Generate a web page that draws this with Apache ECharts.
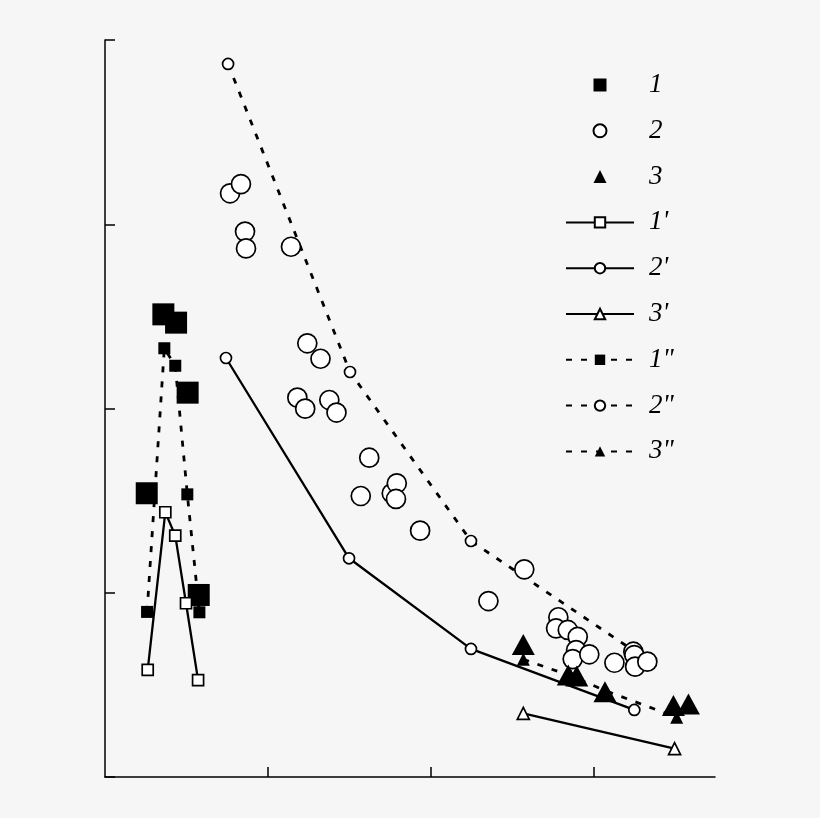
<!DOCTYPE html>
<html>
<head>
<meta charset="utf-8">
<script src="https://cdn.jsdelivr.net/npm/echarts@6/dist/echarts.min.js"></script>
<style>
  html, body { margin: 0; padding: 0; background: #f6f6f6; }
  #chart { width: 820px; height: 818px; }
</style>
</head>
<body>
<div id="chart"></div>
<script>
// values in tick units (no labels are printed on the axes)
var xTicks = [1, 2, 3];
var legendNames = ['1', '2', '3', "1'", "2'", "3'", '1"', '2"', '3"'];

// 1 - big filled squares
var exp1 = [[0.256, 1.540], [0.358, 2.511], [0.436, 2.466], [0.507, 2.086], [0.575, 0.988]];
// 2 - big open circles
var exp2 = [
  [0.767, 3.168], [0.834, 3.218], [0.859, 2.960], [0.865, 2.869], [1.141, 2.878],
  [1.241, 2.354], [1.322, 2.270], [1.180, 2.059], [1.228, 1.999], [1.376, 2.046],
  [1.420, 1.978], [1.621, 1.733], [1.569, 1.525], [1.759, 1.540], [1.790, 1.594],
  [1.785, 1.509], [1.933, 1.337], [2.572, 1.127], [2.352, 0.955], [2.781, 0.867],
  [2.767, 0.807], [2.839, 0.798], [2.900, 0.761], [2.890, 0.689], [2.869, 0.640],
  [2.971, 0.666], [3.125, 0.620], [3.241, 0.680], [3.247, 0.662], [3.252, 0.599],
  [3.327, 0.626]
];
// 3 - big filled triangles
var exp3 = [[2.566, 0.719], [2.842, 0.554], [2.894, 0.548], [3.067, 0.463], [3.487, 0.388], [3.579, 0.396]];

// 1', 2', 3' - solid lines
var calc1a = [[0.262, 0.581], [0.370, 1.437], [0.431, 1.310], [0.497, 0.943], [0.571, 0.526]];
var calc2a = [[0.742, 2.274], [1.497, 1.187], [2.245, 0.695], [3.247, 0.364]];
var calc3a = [[2.566, 0.345], [3.494, 0.154]];

// 1", 2", 3" - dashed lines
var calc1b = [[0.258, 0.896], [0.364, 2.327], [0.431, 2.232], [0.505, 1.534], [0.579, 0.894]];
var calc2b = [[0.755, 3.870], [1.503, 2.198], [2.245, 1.281], [3.245, 0.684]];
var calc3b = [[2.566, 0.639], [2.859, 0.548], [3.074, 0.467], [3.507, 0.324]];

var black = '#000';
var openStyle = { color: '#fff', borderColor: black, borderWidth: 1.7, opacity: 1 };
var fillStyle = { color: black, borderColor: black, borderWidth: 0, opacity: 1 };
var dash = [6, 9];

// square / triangle legend icons as paths so they keep their aspect
var squareIcon = 'path://M0,0H10V10H0Z';
var triangleIcon = 'path://M5,0L10,10H0Z';

function lineSeries(name, data, symbol, size, item, type) {
  return {
    name: name,
    type: 'line',
    data: data,
    symbol: symbol,
    symbolSize: size,
    itemStyle: item,
    lineStyle: { color: black, width: type === 'solid' ? 2.3 : 2.8, type: type },
    silent: true
  };
}

function scatterSeries(name, data, symbol, size, item, z) {
  return {
    name: name,
    type: 'scatter',
    z: z,
    data: data,
    symbol: symbol,
    symbolSize: size,
    itemStyle: item,
    silent: true
  };
}

var chart = echarts.init(document.getElementById('chart'));

var option = {
  backgroundColor: '#f6f6f6',
  animation: false,
  grid: { left: 105, right: 105, top: 40, bottom: 41 },
  xAxis: {
    type: 'value',
    min: 0,
    max: 3.742,
    axisLine: { lineStyle: { color: black, width: 1.5 } },
    axisTick: { inside: true, length: 10, customValues: xTicks, lineStyle: { color: black, width: 1.5 } },
    axisLabel: { show: false },
    splitLine: { show: false }
  },
  yAxis: {
    type: 'value',
    min: 0,
    max: 4,
    interval: 1,
    axisLine: { show: true, lineStyle: { color: black, width: 1.5 } },
    axisTick: { show: true, inside: true, length: 10, lineStyle: { color: black, width: 1.5 } },
    axisLabel: { show: false },
    splitLine: { show: false }
  },
  legend: {
    data: [
      { name: legendNames[0], icon: squareIcon },
      { name: legendNames[1] },
      { name: legendNames[2], icon: triangleIcon },
      { name: legendNames[3] },
      { name: legendNames[4] },
      { name: legendNames[5] },
      { name: legendNames[6] },
      { name: legendNames[7] },
      { name: legendNames[8] }
    ],
    orient: 'vertical',
    left: 565,
    top: 70,
    padding: 0,
    itemWidth: 68,
    itemHeight: 13,
    itemGap: 15.8,
    symbolKeepAspect: true,
    selectedMode: false,
    textStyle: {
      fontFamily: 'Liberation Serif',
      fontStyle: 'italic',
      fontSize: 27,
      lineHeight: 30,
      color: black,
      padding: [0, 0, 0, 10]
    }
  },
  series: [
    lineSeries('2"', calc2b, 'circle', 11, openStyle, dash),
    lineSeries("2'", calc2a, 'circle', 11, openStyle, 'solid'),
    lineSeries('1"', calc1b, 'rect', 12, fillStyle, dash),
    scatterSeries('1', exp1, 'rect', 22, fillStyle, 2),
    lineSeries("1'", calc1a, 'rect', 11, openStyle, 'solid'),
    scatterSeries('2', exp2, 'circle', 19, openStyle, 3),
    lineSeries("3'", calc3a, 'triangle', 12, openStyle, 'solid'),
    lineSeries('3"', calc3b, 'triangle', 13, fillStyle, dash),
    scatterSeries('3', exp3, 'triangle', [23, 21], fillStyle, 3)
  ]
};

chart.setOption(option);
</script>
</body>
</html>
